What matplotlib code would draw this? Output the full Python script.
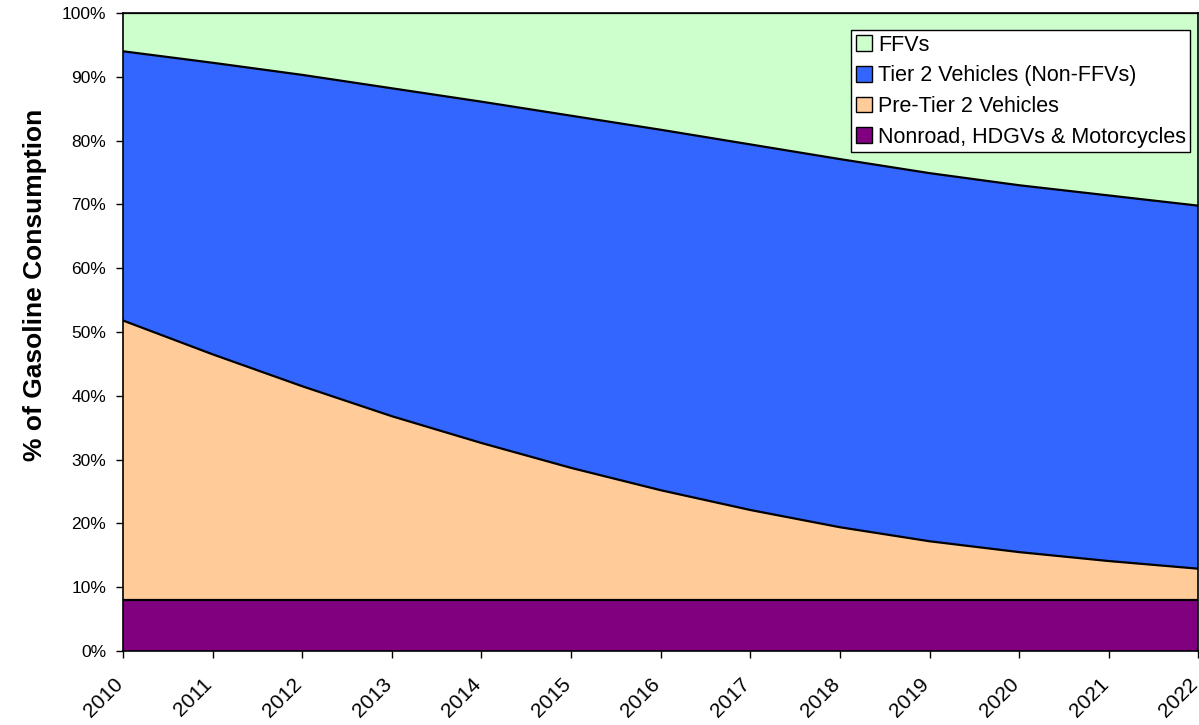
import matplotlib
matplotlib.use("Agg")
import matplotlib.pyplot as plt
import matplotlib.transforms as mtransforms
import numpy as np

plt.rcParams['font.family'] = ['Liberation Sans', 'DejaVu Sans']

years = [2010, 2011, 2012, 2013, 2014, 2015, 2016, 2017, 2018, 2019, 2020, 2021, 2022]
# layer shares (% of gasoline consumption)
nonroad = [8.0] * 13
pre_tier2 = [43.8, 38.5, 33.5, 28.8, 24.6, 20.7, 17.2, 14.1, 11.4, 9.2, 7.5, 6.1, 4.9]
tier2 = [42.2, 45.7, 48.8, 51.4, 53.5, 55.2, 56.5, 57.3, 57.7, 57.7, 57.5, 57.3, 56.9]
ffvs = [6.0, 7.8, 9.7, 11.8, 13.9, 16.1, 18.3, 20.6, 22.9, 25.1, 27.0, 28.6, 30.2]

labels = ["Nonroad, HDGVs & Motorcycles", "Pre-Tier 2 Vehicles",
          "Tier 2 Vehicles (Non-FFVs)", "FFVs"]
colors = ["#800080", "#FFCC99", "#3366FF", "#CCFFCC"]

fig = plt.figure(figsize=(11.99, 7.25), dpi=100)
ax = fig.add_axes([123/1199, (725-651)/725, (1199-123)/1199 - 0.0005, (651-13)/725])

x = np.array(years)
series = [nonroad, pre_tier2, tier2, ffvs]
bottom = np.zeros(len(x))
handles = []
for vals, lab, col in zip(series, labels, colors):
    top = bottom + np.array(vals)
    h = ax.fill_between(x, bottom, top, facecolor=col, edgecolor='none', label=lab)
    ax.plot(x, top, color='black', lw=1.6, solid_joinstyle='round')
    handles.append(h)
    bottom = top

ax.set_xlim(years[0], years[-1])
ax.set_ylim(0, 100)
ax.set_yticks(range(0, 101, 10))
ax.set_yticklabels([f"{v}%" for v in range(0, 101, 10)], fontsize=12.5)
ax.set_xticks(years)
ax.set_xticklabels([str(y) for y in years], rotation=45, ha='right', va='top',
                   rotation_mode='anchor', fontsize=15)
ax.tick_params(axis='both', direction='out', length=5, width=1, colors='black')
ax.tick_params(axis='y', pad=7)
ax.tick_params(axis='x', pad=12)
offset = mtransforms.ScaledTranslation(-10/100, 0, fig.dpi_scale_trans)
for lbl in ax.get_xticklabels():
    lbl.set_transform(lbl.get_transform() + offset)
for s in ax.spines.values():
    s.set_color('black')
    s.set_linewidth(1.2)
ax.set_ylabel("% of Gasoline Consumption", fontsize=19, fontweight='bold')
ax.yaxis.set_label_coords((47 - 123) / 1076, (651 - 285) / 638)

leg = ax.legend(handles[::-1], labels[::-1], loc='upper right',
                bbox_to_anchor=(0.9926, 0.973), fontsize=15.5, frameon=True,
                fancybox=False, edgecolor='black', framealpha=1,
                handlelength=0.75, handleheight=0.75, handletextpad=0.3,
                borderpad=0.2, labelspacing=0.45, borderaxespad=0)
leg.get_frame().set_linewidth(1)
for p in leg.get_patches():
    p.set_edgecolor('black')
    p.set_linewidth(1)

fig.savefig("out.png", dpi=100)
